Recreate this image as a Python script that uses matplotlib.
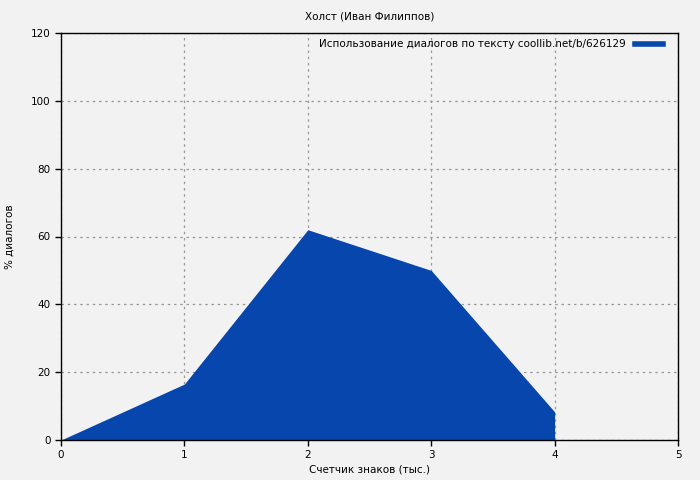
import matplotlib
matplotlib.use("Agg")
import matplotlib.pyplot as plt
from matplotlib.lines import Line2D

# счетчик знаков (тыс.) и доля диалогов
x_vals = [0, 1, 2, 3, 4, 4]
y_vals = [0, 16.5, 62, 50, 8.3, 0]
x_ticks = [0, 1, 2, 3, 4, 5]
y_ticks = [0, 20, 40, 60, 80, 100, 120]
series_name = 'Использование диалогов по тексту coollib.net/b/626129'

plt.rcParams['font.family'] = ['DejaVu Sans']
plt.rcParams['font.size'] = 7.5

fig = plt.figure(figsize=(7, 4.8), dpi=100, facecolor='#f2f2f2')
ax = fig.add_axes([61/700, 40/480, 617/700, 407/480])
ax.set_facecolor('#f2f2f2')

ax.fill_between(x_vals, y_vals, 0, color='#0646ad', lw=0, zorder=2)

ax.set_xlim(0, 5)
ax.set_ylim(0, 120)
ax.set_xticks(x_ticks)
ax.set_yticks(y_ticks)
ax.grid(True, color='#999999', linestyle=(0, (2, 3)), lw=0.9, zorder=1)
ax.tick_params(direction='out', length=4, width=1, colors='black')
for s in ax.spines.values():
    s.set_linewidth(1)
    s.set_zorder(3)

ax.set_xlabel('Счетчик знаков (тыс.)', labelpad=3)
ax.set_ylabel('% диалогов', labelpad=12)
ax.set_title('Холст (Иван Филиппов)', fontsize=7.5, pad=10)

h = [Line2D([0], [0], color='#0646ad', lw=4)]
ax.legend(h, [series_name], loc='upper right', frameon=False, markerfirst=False,
          handlelength=2.7, handletextpad=0.8,
          bbox_to_anchor=(1 - 6/617, 1 + 3/407))

fig.savefig('out.png', dpi=100, facecolor=fig.get_facecolor())
